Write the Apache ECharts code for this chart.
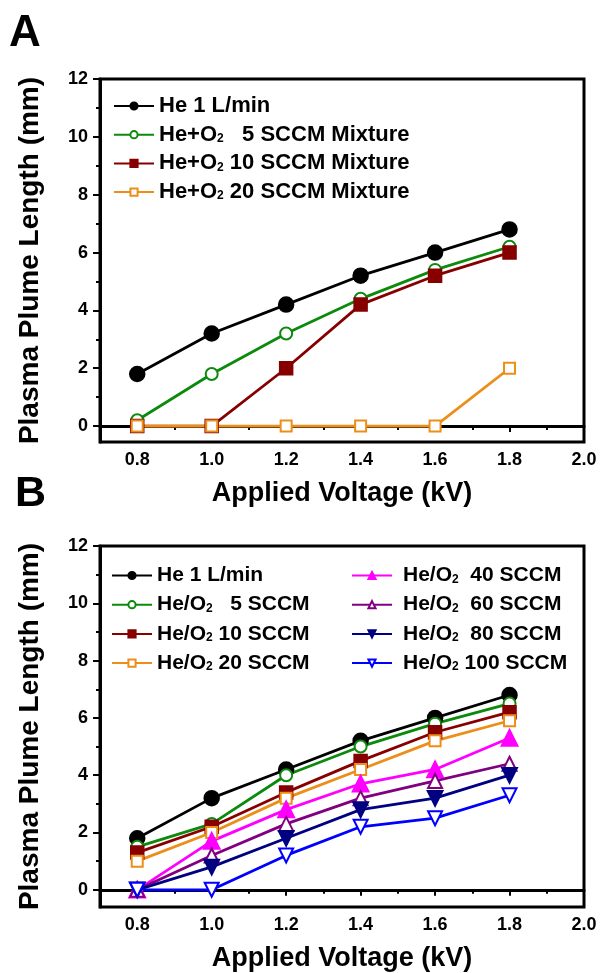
<!DOCTYPE html>
<html>
<head>
<meta charset="utf-8">
<script src="https://cdn.jsdelivr.net/npm/echarts@6/dist/echarts.min.js"></script>
<style>html,body{margin:0;padding:0;background:#fff;}#c{width:600px;height:973px;}</style>
</head>
<body>
<div id="c"></div>
<script>
// ---- data ----
const voltages = [0.8, 1.0, 1.2, 1.4, 1.6, 1.8];
const xTicks = [0.8, 1.0, 1.2, 1.4, 1.6, 1.8, 2.0];
const xMinorTicks = [0.9, 1.1, 1.3, 1.5, 1.7, 1.9];
const yTicks = [0, 2, 4, 6, 8, 10, 12];
const yMinorTicks = [1, 3, 5, 7, 9, 11];

// Panel A
const aNames = ['He 1 L/min', 'He+O2   5 SCCM Mixture', 'He+O2 10 SCCM Mixture', 'He+O2 20 SCCM Mixture'];
const aHe    = [1.8, 3.2, 4.2, 5.2, 6.0, 6.8];
const aO2_5  = [0.2, 1.8, 3.2, 4.4, 5.4, 6.2];
const aO2_10 = [0, 0, 2.0, 4.2, 5.2, 6.0];
const aO2_20 = [0, 0, 0, 0, 0, 2.0];

// Panel B
const bNames = ['He 1 L/min ', 'He/O2   5 SCCM', 'He/O2 10 SCCM', 'He/O2 20 SCCM',
                'He/O2  40 SCCM', 'He/O2  60 SCCM', 'He/O2  80 SCCM', 'He/O2 100 SCCM'];
const bHe   = [1.8, 3.2, 4.2, 5.2, 6.0, 6.8];
const b5    = [1.5, 2.3, 4.0, 5.0, 5.8, 6.5];
const b10   = [1.3, 2.2, 3.4, 4.5, 5.5, 6.2];
const b20   = [1.0, 2.0, 3.2, 4.2, 5.2, 5.9];
const b40   = [0, 1.7, 2.8, 3.7, 4.2, 5.3];
const b60   = [0, 1.2, 2.3, 3.2, 3.8, 4.4];
const b80   = [0, 0.8, 1.8, 2.8, 3.2, 4.0];
const b100  = [0, 0, 1.2, 2.2, 2.5, 3.3];

const FONT = "'Liberation Sans', Arial, sans-serif";

const styles = {
  black:   {color: '#000000', symbol: 'circle', size: 14},
  green:   {color: '#0b8a0b', symbol: 'emptyCircle', size: 12},
  wine:    {color: '#870000', symbol: 'rect', size: 12},
  orange:  {color: '#ec8f1a', symbol: 'emptyRect', size: 11},
  magenta: {color: '#ff00ff', symbol: 'triangle', size: 15},
  purple:  {color: '#800080', symbol: 'emptyTriangle', size: 14},
  navy:    {color: '#000080', symbol: 'triangle', size: 14, rotate: 180},
  blue:    {color: '#0000ff', symbol: 'emptyTriangle', size: 14, rotate: 180}
};

function mk(name, vals, st, xi, yi) {
  return {
    type: 'line', name: name, xAxisIndex: xi, yAxisIndex: yi,
    data: voltages.map((v, i) => [v, vals[i]]),
    symbol: st.symbol, symbolSize: st.size, symbolRotate: st.rotate || 0,
    lineStyle: {color: st.color, width: 2.8},
    itemStyle: {color: st.color, borderColor: st.color, borderWidth: 2.5},
    emphasis: {disabled: true}, animation: false, z: 2
  };
}

function grid(top, height) {
  return {left: 100, top: top, width: 484, height: height, show: true,
          borderColor: '#000', borderWidth: 3, backgroundColor: 'transparent'};
}

function xMain(gi) {
  return {
    type: 'value', gridIndex: gi, min: 0.7, max: 2.0, position: 'bottom',
    name: 'Applied Voltage (kV)', nameLocation: 'middle', nameGap: 38,
    nameTextStyle: {fontFamily: FONT, fontWeight: 'bold', fontSize: 27, color: '#000'},
    axisLine: {show: true, lineStyle: {color: '#000', width: 3}},
    axisTick: {show: true, customValues: xTicks, length: 6, lineStyle: {color: '#000', width: 2}},
    axisLabel: {show: true, customValues: xTicks, margin: 9, formatter: v => Number(v).toFixed(1),
                fontFamily: FONT, fontWeight: 'bold', fontSize: 18, color: '#000'},
    splitLine: {show: false}
  };
}
function xMinor(gi) {
  return {
    type: 'value', gridIndex: gi, min: 0.7, max: 2.0, position: 'bottom', offset: 0,
    axisLine: {show: false},
    axisTick: {show: true, customValues: xMinorTicks, length: 4, lineStyle: {color: '#000', width: 2}},
    axisLabel: {show: false}, splitLine: {show: false}
  };
}
function yMain(gi, min) {
  return {
    type: 'value', gridIndex: gi, min: min, max: 12, position: 'left',
    name: 'Plasma Plume Length (mm)', nameLocation: 'middle', nameGap: 56, nameRotate: 90,
    nameTextStyle: {fontFamily: FONT, fontWeight: 'bold', fontSize: 28, color: '#000'},
    axisLine: {show: true, lineStyle: {color: '#000', width: 3}},
    axisTick: {show: true, customValues: yTicks, length: 7, lineStyle: {color: '#000', width: 2}},
    axisLabel: {show: true, customValues: yTicks, margin: 12,
                fontFamily: FONT, fontWeight: 'bold', fontSize: 18, color: '#000'},
    splitLine: {show: false}
  };
}
function yMinor(gi, min) {
  return {
    type: 'value', gridIndex: gi, min: min, max: 12, position: 'left', offset: 0,
    axisLine: {show: false},
    axisTick: {show: true, customValues: yMinorTicks, length: 4, lineStyle: {color: '#000', width: 2}},
    axisLabel: {show: false}, splitLine: {show: false}
  };
}

function legendText(size, pad) {
  return {
    fontFamily: FONT, fontWeight: 'bold', fontSize: size, color: '#000', lineHeight: 20,
    padding: pad || 0,
    rich: {s: {fontFamily: FONT, fontWeight: 'bold', fontSize: 12, lineHeight: 8, verticalAlign: 'bottom', color: '#000'}}
  };
}
function legend(names, left, top, size, gap, pad) {
  return {
    orient: 'vertical', left: left, top: top, data: names,
    itemWidth: 40, itemHeight: 9, itemGap: gap, selectedMode: false,
    formatter: n => n.trim().replace('O2', 'O{s|2}'),
    textStyle: legendText(size, pad), padding: 0
  };
}

const option = {
  backgroundColor: '#fff',
  animation: false,
  grid: [grid(79, 363), grid(546, 364)],
  xAxis: [xMain(0), xMinor(0), xMain(1), xMinor(1)],
  yAxis: [yMain(0, -0.55), yMinor(0, -0.55), yMain(1, -0.6), yMinor(1, -0.6)],
  legend: [
    legend(aNames, 113, 95, 22, 6.7),
    legend(bNames.slice(0, 4), 111, 565, 21, 8.2),
    legend(bNames.slice(4), 351, 565, 21, 8.2, [0, 0, 0, 6])
  ],
  graphic: [
    {type: 'text', left: 9, top: 12, style: {text: 'A', font: 'bold 44px ' + FONT, fill: '#000'}},
    {type: 'text', left: 15, top: 473, style: {text: 'B', font: 'bold 43px ' + FONT, fill: '#000'}}
  ],
  series: [
    mk(aNames[0], aHe, styles.black, 0, 0),
    mk(aNames[1], aO2_5, styles.green, 0, 0),
    mk(aNames[2], aO2_10, styles.wine, 0, 0),
    mk(aNames[3], aO2_20, styles.orange, 0, 0),
    mk(bNames[0], bHe, styles.black, 2, 2),
    mk(bNames[1], b5, styles.green, 2, 2),
    mk(bNames[2], b10, styles.wine, 2, 2),
    mk(bNames[3], b20, styles.orange, 2, 2),
    mk(bNames[4], b40, styles.magenta, 2, 2),
    mk(bNames[5], b60, styles.purple, 2, 2),
    mk(bNames[6], b80, styles.navy, 2, 2),
    mk(bNames[7], b100, styles.blue, 2, 2)
  ]
};
const chart = echarts.init(document.getElementById('c'), null, {renderer: 'canvas'});
chart.setOption(option);
</script>
</body>
</html>
